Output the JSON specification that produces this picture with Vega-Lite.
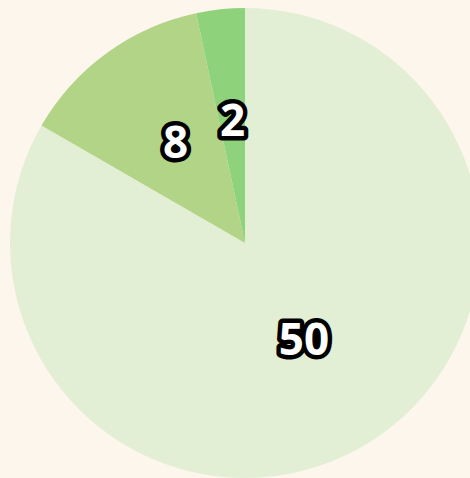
{
  "$schema": "https://vega.github.io/schema/vega-lite/v6.json",
  "width": 490,
  "height": 486,
  "padding": 0,
  "autosize": {"type": "none"},
  "background": "#fdf6ec",
  "view": {"stroke": null},
  "data": {"values": [
    {"category": "A", "value": 50},
    {"category": "B", "value": 8},
    {"category": "C", "value": 2}
  ]},
  "encoding": {
    "theta": {"field": "value", "type": "quantitative", "stack": true},
    "order": {"field": "category", "type": "nominal"}
  },
  "layer": [
    {
      "mark": {"type": "arc", "outerRadius": 235},
      "encoding": {
        "color": {"field": "category", "type": "nominal", "legend": null,
          "scale": {"domain": ["A", "B", "C"], "range": ["#e3efd5", "#b2d487", "#8ed37c"]}}
      }
    },
    {
      "mark": {"type": "text", "radius": 118, "font": "Noto Sans", "fontWeight": "bold", "fontSize": 44, "fill": "black", "stroke": "black", "strokeWidth": 9, "strokeJoin": "round", "baseline": "middle", "align": "center", "dy": -3},
      "encoding": {"text": {"field": "value", "type": "quantitative"}}
    },
    {
      "mark": {"type": "text", "radius": 118, "font": "Noto Sans", "fontWeight": "bold", "fontSize": 44, "fill": "white", "baseline": "middle", "align": "center", "dy": -3},
      "encoding": {"text": {"field": "value", "type": "quantitative"}}
    }
  ]
}
